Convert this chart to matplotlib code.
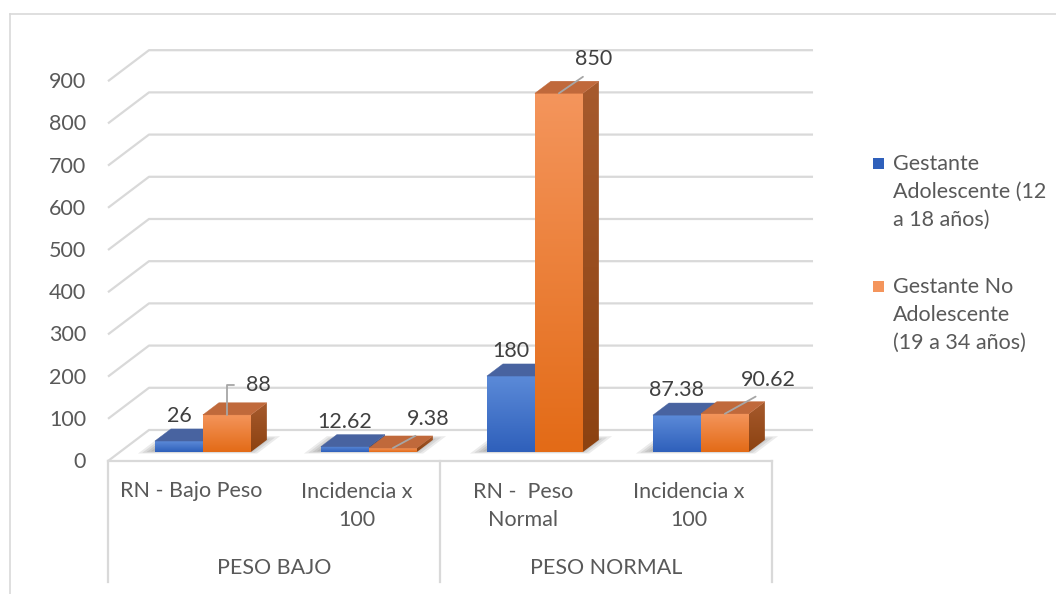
import numpy as np
import matplotlib.pyplot as plt
from matplotlib.patches import Polygon, Rectangle
from matplotlib.lines import Line2D
from matplotlib.colors import to_rgb

plt.rcParams['font.family'] = ['Lato', 'DejaVu Sans']

# datos
grupos = ['PESO BAJO', 'PESO NORMAL']
categorias = ['RN - Bajo Peso', 'Incidencia x\n100', 'RN -  Peso\nNormal', 'Incidencia x\n100']
series = ['Gestante\nAdolescente (12\na 18 años)', 'Gestante No\nAdolescente\n(19 a 34 años)']
adolescente = [26, 12.62, 180, 87.38]
no_adolescente = [88, 9.38, 850, 90.62]
ticks = list(range(0, 1000, 100))

# geometria de la vista 3D (unidades de categoria / valor)
DX, DY = 0.247, 73.5        # profundidad de la pared
F0, F1 = 0.29, 0.68         # posicion de las barras en la profundidad
W = 0.289                   # ancho de cada barra
PX_Y = 1 / 0.422            # un pixel en unidades de valor
FS = 15.5

GRID = '#d9d9d9'
TXT = '#595959'
LBL = '#404040'

colores = [
    dict(top_face='#4863a0', front=('#5b8ad8', '#2f60bb'), side=('#35569a', '#24467f')),
    dict(top_face='#c0693b', front=('#f4955c', '#e36b17'), side=('#a65a2d', '#8c4211')),
]

fig = plt.figure(figsize=(10.56, 5.94), dpi=100)
ax = fig.add_axes([0, 0, 1, 1])
ax.axis('off')


def gradiente(c_top, c_bot):
    t = np.linspace(0, 1, 64)[:, None, None]
    return np.array(to_rgb(c_bot)) * (1 - t) + np.array(to_rgb(c_top)) * t


def barra(xl, val, col, z):
    xf, yf = xl + F0 * DX, F0 * DY
    dx, dy = (F1 - F0) * DX, (F1 - F0) * DY
    # cara frontal
    ax.imshow(gradiente(*col['front']), extent=[xf, xf + W, yf, yf + val],
              origin='lower', aspect='auto', interpolation='bilinear', zorder=z)
    # cara lateral
    lado = Polygon([(xf + W, yf), (xf + W + dx, yf + dy), (xf + W + dx, yf + val + dy),
                    (xf + W, yf + val)], closed=True, fc='none', ec='none', zorder=z)
    ax.add_patch(lado)
    im = ax.imshow(gradiente(*col['side']), extent=[xf + W, xf + W + dx, yf, yf + val + dy],
                   origin='lower', aspect='auto', interpolation='bilinear', zorder=z)
    im.set_clip_path(lado)
    # cara superior
    ax.add_patch(Polygon([(xf, yf + val), (xf + dx, yf + val + dy), (xf + W + dx, yf + val + dy),
                          (xf + W, yf + val)], closed=True, fc=col['top_face'],
                         ec=col['top_face'], lw=0.3, zorder=z))
    return xf, yf, dx, dy


def sombra(xl, z):
    # sombra difusa sobre el piso
    for k in range(6):
        m = 0.02 * k
        x0 = xl - 0.09 + m
        x1 = xl + 2 * W + 0.05 - m
        f0, f1 = F0 - 0.05 + m * 1.2, F1 + 0.12 - m * 2
        ax.add_patch(Polygon([(x0 + f0 * DX, f0 * DY), (x1 + f0 * DX, f0 * DY),
                              (x1 + f1 * DX, f1 * DY), (x0 + f1 * DX, f1 * DY)],
                             closed=True, fc='black', ec='none', alpha=0.08, zorder=z))


# lineas de division con la pared y el piso
for v in ticks:
    ax.plot([0, DX, 4 + DX], [v, v + DY, v + DY], color=GRID, lw=1.6, zorder=1,
            solid_capstyle='butt')
    ax.text(-0.1325, v - 1 * PX_Y, f'{v}', ha='right', va='center', fontsize=FS, color=TXT)

# eje de categorias
y_fondo = -121 * PX_Y
ax.plot([0, 4], [0, 0], color=GRID, lw=1.6, zorder=1)
for xv in [0, 2, 4]:
    ax.plot([xv, xv], [0, y_fondo], color=GRID, lw=1.6, zorder=1)
for i, cat in enumerate(categorias):
    yc = -(30 if '\n' not in cat else 45) * PX_Y
    ax.text(i + 0.5, yc, cat, ha='center', va='center', fontsize=FS, color=TXT,
            linespacing=1.55, multialignment='center')
for g, nombre in enumerate(grupos):
    ax.text(2 * g + 1, -107 * PX_Y, nombre, ha='center', va='center', fontsize=FS, color=TXT)

# barras
offsets_naranja = [(31, 30), (35, 29), (35, 34), (43, 34)]
for i in range(len(categorias)):
    c = i + 0.5
    sombra(c - W, 2)
    xf, yf, dx, dy = barra(c - W, adolescente[i], colores[0], 3 + 2 * i)
    ax.text(xf + W / 2, yf + adolescente[i] + dy + 13 * PX_Y, f'{adolescente[i]:g}',
            ha='center', va='center', fontsize=FS, color=LBL, zorder=20)
    xf, yf, dx, dy = barra(c, no_adolescente[i], colores[1], 4 + 2 * i)
    ox, oy = offsets_naranja[i]
    if i == 0:
        flecha = dict(arrowstyle='-', color='#a6a6a6', lw=1.3, shrinkA=6, shrinkB=0,
                      relpos=(0, 0.5), connectionstyle='angle,angleA=0,angleB=90,rad=0')
    else:
        flecha = dict(arrowstyle='-', color='#a6a6a6', lw=1.3, shrinkA=6, shrinkB=0,
                      relpos=(0.5, 0))
    ax.annotate(f'{no_adolescente[i]:g}', xy=(xf + W / 2, yf + no_adolescente[i]),
                xytext=(ox, oy), textcoords='offset pixels', ha='center', va='center',
                fontsize=FS, color=LBL, arrowprops=flecha, zorder=20)

ax.set_xlim(-108 / 166, (1056 - 108) / 166)
ax.set_ylim(-133 * PX_Y, 461 * PX_Y)

# leyenda
for k, (nombre, col, ytop) in enumerate(zip(series, colores, [158, 281])):
    c1, c2 = col['front']
    fig.patches.append(Rectangle((873 / 1056, 1 - (ytop + 11) / 594), 11 / 1056, 11 / 594,
                                 transform=fig.transFigure, fc=c2 if k == 0 else c1, ec='none'))
    fig.text(893 / 1056, 1 - (ytop - 4) / 594, nombre, ha='left', va='top', fontsize=FS,
             color=TXT, linespacing=1.5)

# borde del grafico
fig.lines.append(Line2D([9.5 / 1056, 9.5 / 1056], [0, 1 - 14 / 594], transform=fig.transFigure,
                        color=GRID, lw=1.2))
fig.lines.append(Line2D([9.5 / 1056, 1], [1 - 14 / 594, 1 - 14 / 594], transform=fig.transFigure,
                        color=GRID, lw=1.2))

fig.savefig('out.png', dpi=100, facecolor='white')
